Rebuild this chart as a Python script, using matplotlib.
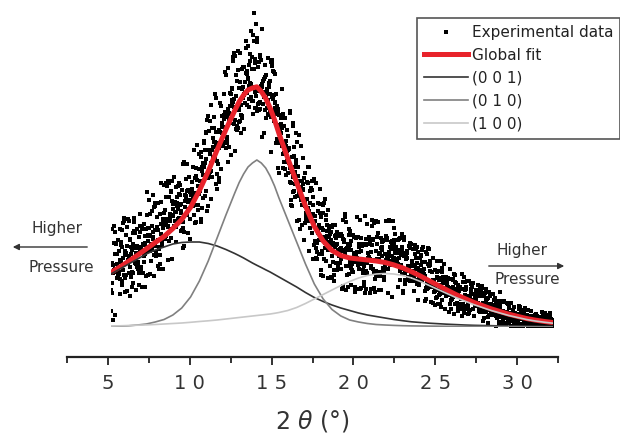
import numpy as np
import matplotlib.pyplot as plt
from matplotlib.lines import Line2D

# 2 theta grid of the fitted curves (deg), finer around the main peak
two_theta = np.r_[np.arange(5, 12, 0.5), np.arange(12, 14.5, 0.25), np.arange(14.5, 30.01, 0.5)]

# fitted components, intensity in a.u.
comp_001 = [53, 58, 63, 68, 73, 77, 80, 83, 84.5, 85, 85, 83.5, 81, 77.5,
            73.5, 71.3, 69, 66.5, 64, 61.7, 59.5, 57.2, 55, 52.5,
            50, 45, 40, 34.5, 29.5, 25.5, 22, 19, 16.5, 14, 12, 10.5, 9, 7.5, 6.3, 5.2,
            4.5, 3.8, 3.3, 2.8, 2.4, 2, 1.7, 1.5, 1.3, 1.1, 0.95, 0.8, 0.7, 0.6, 0.5, 0.4]
comp_010 = [0.5, 0.8, 1.2, 2, 3, 5, 7.5, 12, 19, 30, 46, 66, 89, 112,
            134, 144.5, 153, 160, 164, 167, 164, 159, 151, 141,
            129, 107, 85, 63, 43, 28, 17.5, 11, 7, 5, 3.5, 2.5, 2, 1.6, 1.3, 1.1,
            1, 0.9, 0.8, 0.7, 0.6, 0.55, 0.5, 0.45, 0.4, 0.38, 0.35, 0.33, 0.3, 0.28, 0.26, 0.25]
comp_100 = [1, 1.2, 1.5, 1.8, 2.1, 2.5, 3, 3.5, 4, 4.7, 5.5, 6.2, 7, 8,
            9, 9.5, 10, 10.5, 11, 11.5, 12, 12.5, 13, 13.7,
            14.5, 16.5, 19.5, 23.5, 28, 32.5, 37, 41.5, 45.5, 49, 51.5, 53, 53.5, 53, 51.5, 49,
            45.5, 41.5, 37.5, 33.5, 29.5, 26, 22.5, 19.5, 16.5, 14, 11.5, 9.5, 7.5, 6, 4.8, 3.8]

# experimental points, 1/60 deg step from 5 to 30, one row per 0.5 deg
exp_rows = [
    [37, 16, 34, 64, 98, 44, 62, 7, 54, 57, 84, 101, 73, 95, 58, 12, 56, 83, 55, 63, 49, 73, 58, 51, 60, 87, 55, 53, 76, 98],
    [67, 33, 48, 85, 82, 65, 46, 97, 80, 42, 69, 104, 57, 106, 109, 52, 76, 72, 49, 35, 74, 92, 52, 36, 100, 81, 66, 108, 64, 67],
    [71, 106, 54, 60, 31, 87, 88, 50, 80, 73, 40, 77, 55, 94, 83, 54, 44, 96, 109, 105, 95, 79, 64, 94, 37, 63, 74, 98, 60, 81],
    [65, 79, 61, 58, 54, 90, 42, 77, 95, 113, 101, 60, 57, 80, 98, 40, 99, 82, 83, 54, 74, 65, 103, 71, 73, 40, 91, 84, 76, 98],
    [51, 135, 80, 112, 86, 92, 99, 52, 127, 91, 99, 53, 92, 113, 76, 81, 83, 66, 116, 77, 101, 88, 95, 132, 90, 51, 120, 72, 81, 124],
    [97, 121, 73, 75, 71, 110, 100, 99, 61, 87, 124, 97, 80, 58, 78, 113, 63, 72, 144, 93, 125, 103, 84, 81, 85, 58, 99, 108, 106, 142],
    [114, 104, 103, 117, 88, 91, 144, 102, 130, 141, 106, 108, 146, 101, 67, 100, 130, 86, 144, 113, 106, 110, 98, 135, 136, 89, 68, 146, 126, 112],
    [118, 123, 111, 150, 100, 101, 115, 106, 125, 85, 100, 140, 115, 130, 121, 124, 118, 141, 105, 108, 109, 133, 144, 122, 132, 142, 114, 96, 123, 116],
    [106, 137, 97, 105, 79, 99, 163, 81, 165, 95, 120, 126, 132, 128, 148, 129, 131, 136, 163, 112, 117, 125, 137, 94, 118, 127, 150, 135, 108, 88],
    [135, 134, 132, 127, 123, 145, 138, 128, 160, 121, 112, 134, 131, 177, 133, 149, 104, 159, 122, 151, 105, 134, 147, 182, 122, 141, 117, 135, 158, 133],
    [173, 136, 146, 158, 175, 170, 105, 108, 160, 156, 119, 164, 152, 129, 162, 160, 186, 184, 131, 177, 164, 194, 195, 136, 168, 152, 116, 207, 149, 121],
    [211, 177, 151, 196, 153, 206, 155, 173, 164, 128, 222, 156, 199, 150, 177, 169, 189, 180, 170, 185, 199, 210, 233, 168, 185, 229, 143, 181, 195, 138],
    [153, 166, 163, 184, 180, 145, 197, 179, 149, 195, 195, 224, 221, 183, 158, 194, 211, 204, 201, 184, 181, 200, 233, 208, 185, 212, 215, 255, 210, 179],
    [252, 214, 184, 212, 190, 188, 218, 165, 259, 208, 214, 207, 180, 221, 234, 204, 233, 172, 213, 238, 227, 239, 224, 270, 225, 266, 203, 274, 228, 220],
    [176, 271, 207, 198, 252, 231, 197, 201, 246, 220, 257, 199, 276, 220, 217, 239, 205, 206, 245, 274, 222, 212, 194, 238, 211, 209, 258, 240, 229, 260],
    [198, 260, 232, 233, 245, 224, 234, 254, 286, 279, 253, 222, 256, 234, 281, 248, 249, 262, 228, 241, 220, 266, 273, 244, 296, 243, 230, 258, 226, 240],
    [270, 292, 213, 226, 314, 258, 286, 235, 268, 219, 264, 231, 303, 219, 216, 289, 236, 285, 217, 223, 260, 217, 265, 224, 272, 218, 270, 225, 267, 236],
    [241, 298, 190, 240, 243, 223, 234, 246, 230, 248, 194, 217, 262, 250, 235, 252, 209, 229, 238, 219, 238, 234, 213, 227, 269, 244, 240, 233, 246, 212],
    [216, 233, 175, 265, 210, 230, 264, 267, 261, 228, 256, 216, 232, 206, 255, 225, 219, 253, 224, 233, 213, 184, 221, 217, 188, 202, 159, 218, 215, 212],
    [184, 154, 186, 200, 188, 197, 194, 209, 203, 238, 181, 185, 199, 159, 173, 213, 174, 165, 201, 209, 185, 158, 184, 152, 181, 186, 176, 166, 197, 177],
    [154, 191, 165, 179, 178, 164, 214, 145, 216, 159, 144, 122, 127, 155, 121, 170, 204, 201, 150, 135, 180, 136, 171, 155, 130, 143, 160, 194, 167, 163],
    [131, 185, 106, 143, 146, 151, 160, 135, 192, 107, 98, 131, 136, 133, 127, 181, 140, 122, 146, 102, 137, 169, 138, 143, 127, 87, 149, 124, 154, 104],
    [121, 110, 114, 107, 145, 128, 106, 144, 160, 119, 106, 116, 160, 76, 136, 124, 109, 99, 113, 112, 139, 94, 146, 137, 130, 68, 122, 113, 102, 82],
    [148, 111, 86, 106, 85, 69, 79, 144, 68, 84, 75, 98, 116, 94, 124, 87, 102, 73, 123, 114, 138, 89, 52, 110, 57, 76, 73, 99, 97, 51],
    [114, 122, 68, 90, 124, 128, 79, 84, 107, 112, 88, 66, 96, 102, 91, 49, 117, 77, 85, 83, 99, 90, 61, 80, 93, 50, 87, 95, 101, 49],
    [100, 71, 65, 84, 82, 102, 46, 52, 57, 91, 102, 80, 92, 89, 82, 64, 57, 95, 83, 77, 91, 76, 61, 73, 71, 77, 78, 74, 64, 79],
    [68, 93, 58, 38, 91, 76, 71, 107, 41, 88, 85, 87, 77, 73, 110, 113, 61, 37, 78, 105, 79, 77, 52, 83, 40, 61, 92, 80, 53, 98],
    [65, 96, 82, 42, 77, 59, 86, 57, 69, 63, 55, 69, 92, 74, 72, 90, 65, 37, 35, 40, 89, 71, 65, 38, 69, 75, 110, 62, 67, 90],
    [58, 83, 75, 80, 38, 63, 107, 89, 76, 39, 82, 83, 64, 81, 54, 57, 67, 61, 41, 45, 83, 34, 111, 64, 56, 88, 82, 38, 103, 54],
    [64, 83, 74, 69, 67, 89, 70, 90, 34, 68, 85, 59, 61, 38, 75, 101, 82, 107, 88, 87, 58, 39, 104, 67, 54, 35, 48, 66, 51, 76],
    [106, 56, 90, 68, 83, 94, 55, 105, 37, 53, 73, 68, 51, 74, 55, 37, 89, 79, 77, 85, 71, 80, 59, 86, 87, 58, 50, 47, 55, 62],
    [73, 61, 67, 91, 106, 87, 89, 69, 71, 58, 70, 34, 71, 75, 107, 66, 62, 80, 106, 78, 85, 79, 30, 82, 86, 71, 69, 66, 106, 99],
    [69, 87, 84, 74, 78, 93, 67, 66, 80, 68, 64, 61, 65, 63, 87, 40, 69, 88, 77, 74, 89, 56, 47, 72, 62, 75, 77, 80, 93, 53],
    [58, 36, 34, 87, 74, 71, 90, 54, 43, 47, 73, 68, 56, 69, 47, 74, 76, 50, 48, 61, 58, 50, 60, 81, 84, 79, 46, 52, 83, 61],
    [66, 63, 56, 61, 46, 55, 78, 51, 48, 36, 73, 46, 62, 82, 69, 78, 58, 43, 80, 47, 64, 59, 75, 27, 49, 54, 42, 69, 46, 57],
    [46, 72, 71, 62, 78, 47, 77, 65, 50, 80, 55, 50, 53, 58, 36, 26, 51, 65, 39, 28, 75, 41, 73, 38, 44, 79, 63, 39, 78, 44],
    [61, 62, 56, 66, 45, 42, 40, 25, 43, 55, 40, 44, 24, 69, 47, 46, 43, 35, 36, 57, 39, 22, 29, 37, 42, 55, 30, 66, 50, 23],
    [49, 56, 42, 32, 47, 33, 39, 23, 37, 66, 49, 20, 27, 59, 55, 34, 47, 44, 50, 63, 38, 34, 18, 44, 49, 39, 31, 50, 35, 36],
    [46, 42, 39, 40, 37, 49, 15, 35, 32, 58, 39, 35, 23, 27, 48, 18, 29, 32, 28, 47, 40, 48, 30, 38, 13, 53, 45, 23, 52, 37],
    [38, 36, 44, 24, 33, 32, 16, 20, 42, 35, 36, 38, 21, 39, 30, 40, 18, 28, 29, 23, 11, 38, 53, 45, 21, 18, 23, 30, 14, 50],
    [45, 32, 21, 37, 20, 38, 40, 18, 30, 46, 26, 13, 24, 20, 31, 46, 14, 25, 28, 17, 29, 43, 38, 35, 33, 40, 27, 18, 44, 25],
    [26, 25, 33, 11, 32, 21, 29, 22, 37, 27, 27, 31, 21, 36, 24, 35, 42, 23, 16, 18, 33, 31, 39, 15, 19, 35, 22, 36, 41, 32],
    [39, 15, 6, 33, 24, 31, 9, 23, 34, 17, 24, 27, 22, 38, 15, 28, 35, 23, 10, 4, 20, 29, 19, 12, 35, 31, 17, 21, 16, 18],
    [23, 18, 19, 21, 15, 12, 16, 20, 33, 22, 27, 15, 29, 22, 21, 23, 0, 11, 14, 13, 19, 9, 16, 26, 12, 25, 3, 18, 5, 35],
    [19, 23, 16, 11, 13, 10, 3, 26, 5, 6, 10, 7, 16, 2, 26, 25, 4, 9, 12, 15, 11, 2, 12, 10, 15, 24, 23, 13, 6, 19],
    [11, 22, 4, 12, 14, 9, 6, 10, 1, 24, 9, 12, 11, 6, 17, 8, 20, 4, 10, 13, 14, 10, 1, 12, 11, 13, 7, 9, 8, 4],
    [12, 7, 0, 21, 11, 3, 18, 8, 13, 20, 1, 17, 16, 15, 14, 2, 13, 0, 3, 11, 13, 10, 16, 6, 19, 12, 7, 4, 9, 8],
    [10, 12, 3, 8, 0, 9, 17, 4, 11, 2, 6, 8, 9, 5, 10, 7, 16, 0, 11, 3, 4, 1, 5, 3, 0, 11, 6, 2, 12, 8],
    [3, 0, 5, 13, 6, 11, 8, 1, 9, 2, 0, 1, 2, 7, 8, 5, 9, 10, 0, 6, 2, 9, 1, 10, 15, 11, 7, 3, 0, 8],
    [9, 8, 3, 14, 7, 12, 6, 5, 4, 2, 1, 3, 7, 9, 0, 6, 4, 8, 10, 11, 14, 6, 8, 0, 3, 7, 1, 2, 5, 4],
    [4],
]
exp_y = np.concatenate([np.array(r, dtype=float) for r in exp_rows])
exp_x = np.linspace(5, 30, len(exp_y))

global_fit = np.array(comp_001) + np.array(comp_010) + np.array(comp_100)

tick_pos = [5, 10, 15, 20, 25, 30]
tick_labels = ['5', '1 0', '1 5', '2 0', '2 5', '3 0']

W, H = 620, 442
fig = plt.figure(figsize=(6.2, 4.42), dpi=100)

# data panel
ax = fig.add_axes([111 / W, (H - 327) / H, 442 / W, 327 / H])
ax.plot(exp_x, exp_y, 's', color='black', ms=3.4, mew=0, zorder=1)
ax.plot(two_theta, global_fit, color='#e8232b', lw=3.6, zorder=2,
        solid_capstyle='butt', solid_joinstyle='round')
ax.plot(two_theta, comp_001, color='#333333', lw=1.2, zorder=3, solid_joinstyle='round')
ax.plot(two_theta, comp_010, color='#808080', lw=1.2, zorder=3, solid_joinstyle='round')
ax.plot(two_theta, comp_100, color='#c8c8c8', lw=1.2, zorder=3, solid_joinstyle='round')
ax.set_xlim(5, 30)
ax.set_ylim(0, 327)
ax.axis('off')

# bottom axis
axx = fig.add_axes([67 / W, (H - 357) / H, 491 / W, 0.001])
axx.set_xlim(2.5, 32.5)
for s in ['top', 'left', 'right']:
    axx.spines[s].set_visible(False)
axx.spines['bottom'].set_linewidth(1.6)
axx.spines['bottom'].set_color('#222222')
axx.patch.set_alpha(0)
axx.set_yticks([])
axx.set_xticks(tick_pos)
axx.set_xticks([2.5, 7.5, 12.5, 17.5, 22.5, 27.5, 32.5], minor=True)
axx.set_xticklabels(tick_labels, family=['Liberation Sans Narrow', 'DejaVu Sans'],
                    fontsize=14, color='#333333')
axx.tick_params(axis='x', which='major', length=6, width=1.3, color='#222222', pad=6)
axx.tick_params(axis='x', which='minor', length=4, width=1.3, color='#222222')

# overlay in pixel coords for labels and arrows
ov = fig.add_axes([0, 0, 1, 1])
ov.set_xlim(0, W)
ov.set_ylim(H, 0)
ov.axis('off')
ov.text(312, 421, r'2 $\theta$ (°)', ha='center', va='center', fontsize=17,
        family=['Liberation Sans Narrow', 'DejaVu Sans'], color='#333333')

txt = dict(fontsize=11, color='#333333', ha='center', va='center')
ov.text(57, 228, 'Higher', **txt)
ov.text(61, 268, 'Pressure', **txt)
ov.annotate('', xy=(10, 247), xytext=(90, 247),
            arrowprops=dict(arrowstyle='-|>', color='#333333', lw=1, mutation_scale=9))
ov.text(522, 250, 'Higher', **txt)
ov.text(527, 279, 'Pressure', **txt)
ov.annotate('', xy=(567, 266), xytext=(486, 266),
            arrowprops=dict(arrowstyle='-|>', color='#333333', lw=1, mutation_scale=9))

handles = [
    Line2D([], [], marker='s', ls='none', color='black', ms=3.5, mew=0),
    Line2D([], [], color='#e8232b', lw=3.6),
    Line2D([], [], color='#333333', lw=1.2),
    Line2D([], [], color='#808080', lw=1.2),
    Line2D([], [], color='#c8c8c8', lw=1.2),
]
labels = ['Experimental data', 'Global fit', '(0 0 1)', '(0 1 0)', '(1 0 0)']
leg = fig.legend(handles, labels, loc='upper left', bbox_to_anchor=(417 / W, 1 - 18 / H),
                 borderaxespad=0, fontsize=11, handlelength=2.9, handletextpad=0.25,
                 labelspacing=0.52, borderpad=0.45, fancybox=False, framealpha=1,
                 edgecolor='#555555')
leg.get_frame().set_linewidth(1.2)
for t in leg.get_texts():
    t.set_color('#222222')

fig.savefig('out.png', dpi=100)
